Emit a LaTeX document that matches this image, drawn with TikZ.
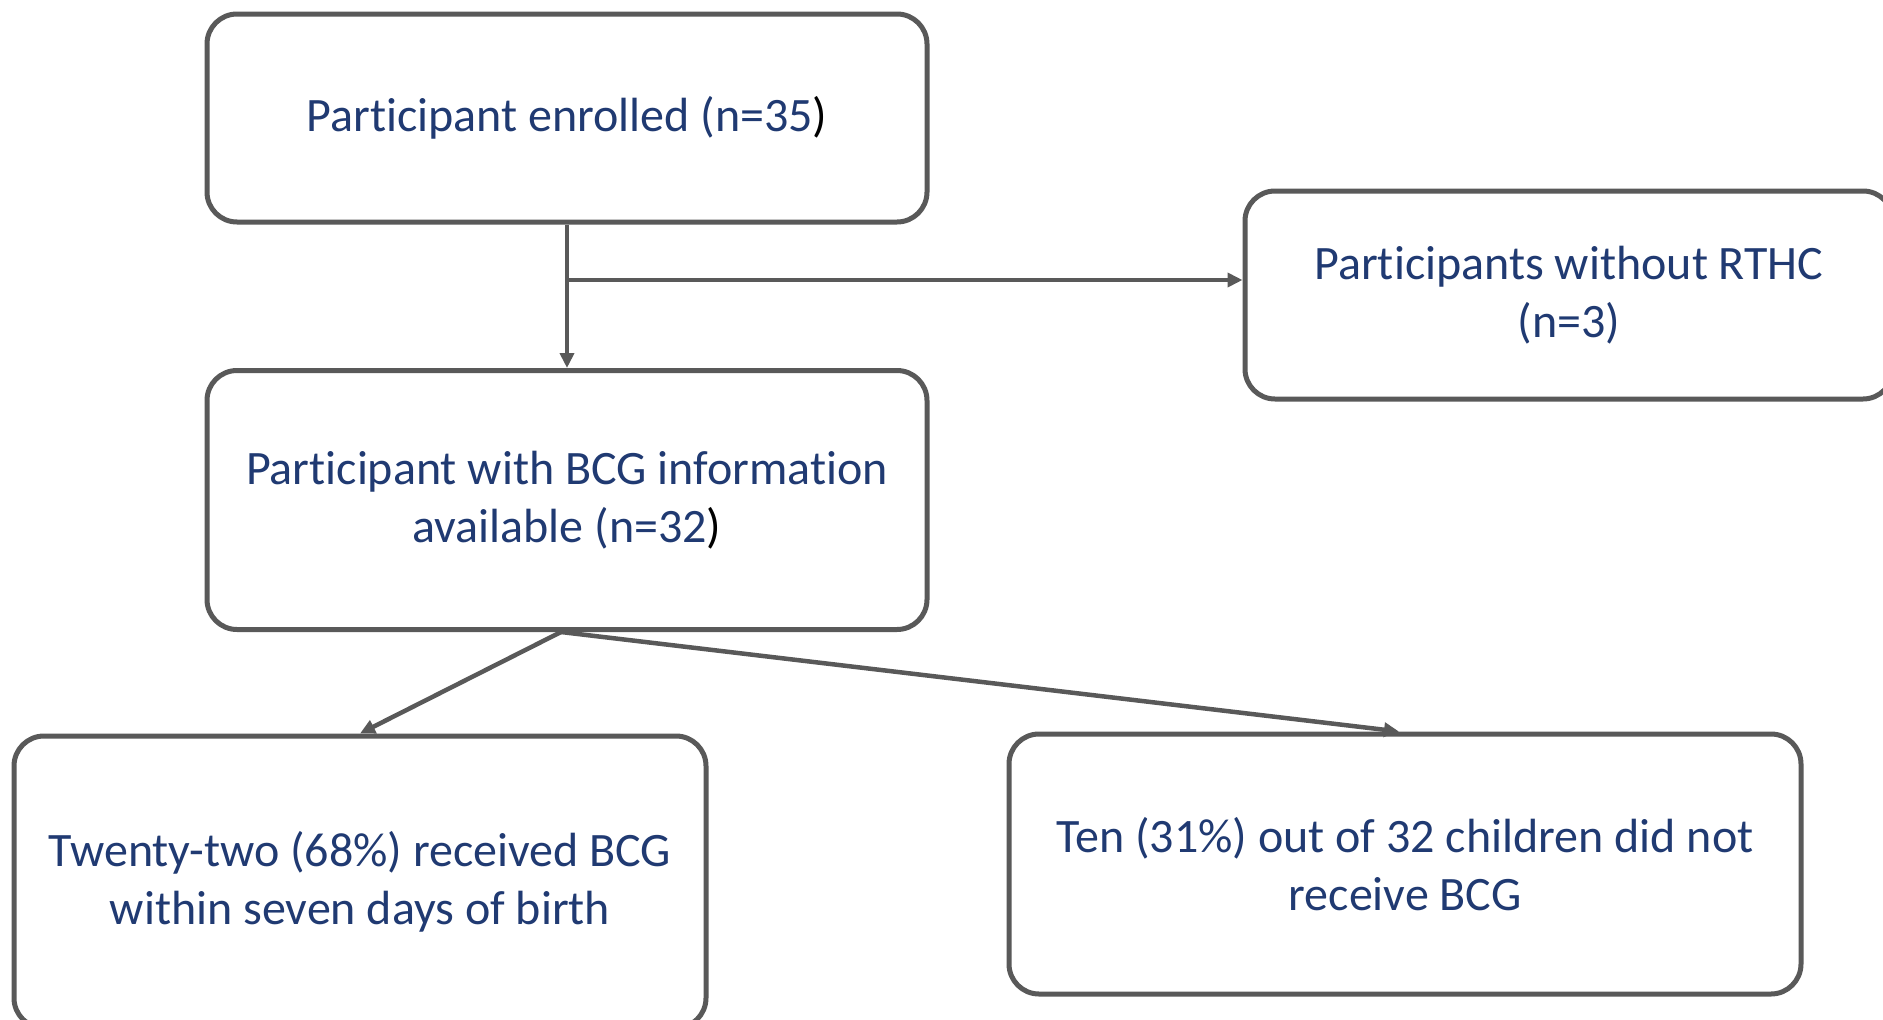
\documentclass[tikz,border=0pt]{standalone}
\usepackage{fontspec}
\setmainfont{Carlito}[Ligatures=NoCommon]
\usetikzlibrary{arrows.meta}
\definecolor{txt}{HTML}{203A72}
\definecolor{ln}{HTML}{595959}
\begin{document}
\begin{tikzpicture}[x=1pt,y=1pt,
  box/.style={draw=ln, line width=5pt, rounded corners=30pt, fill=white, align=center,
    text=txt, font=\fontsize{48}{58}\selectfont, inner sep=0pt},
  conn/.style={draw=ln, line width=4.5pt, -{Triangle[length=15pt,width=14pt]}}]
\clip (0,0) rectangle (1883,-1020);
\useasboundingbox (0,0) rectangle (1883,-1020);
\fill[white] (0,0) rectangle (1883,-1020);
\node[box, minimum width=720pt, minimum height=208pt] (b1) at (567,-118) {Participant enrolled (n=35\textcolor{black}{)}};
\node[box, minimum width=720pt, minimum height=259pt] (b2) at (567,-500) {Participant with BCG information\\available (n=32\textcolor{black}{)}};
\node[box, minimum width=648pt, minimum height=208pt] (rt) at (1569,-295) {Participants without RTHC\\(n=3)};
\node[box, minimum width=692pt, minimum height=292pt] (bl) at (360,-882) {Twenty-two (68\%) received BCG\\within seven days of birth};
\node[box, minimum width=792pt, minimum height=260pt] (br) at (1405,-864) {Ten (31\%) out of 32 children did not\\receive BCG};
\coordinate (j) at (567,-280);
\draw[conn] (b1.south) -- (b2.north);
\draw[conn] (j) -- (j -| rt.west);
\draw[conn] ([xshift=-6pt]b2.south) -- (bl.north);
\draw[conn] ([xshift=-6pt]b2.south) -- ([xshift=-6pt]br.north);
\end{tikzpicture}
\end{document}
